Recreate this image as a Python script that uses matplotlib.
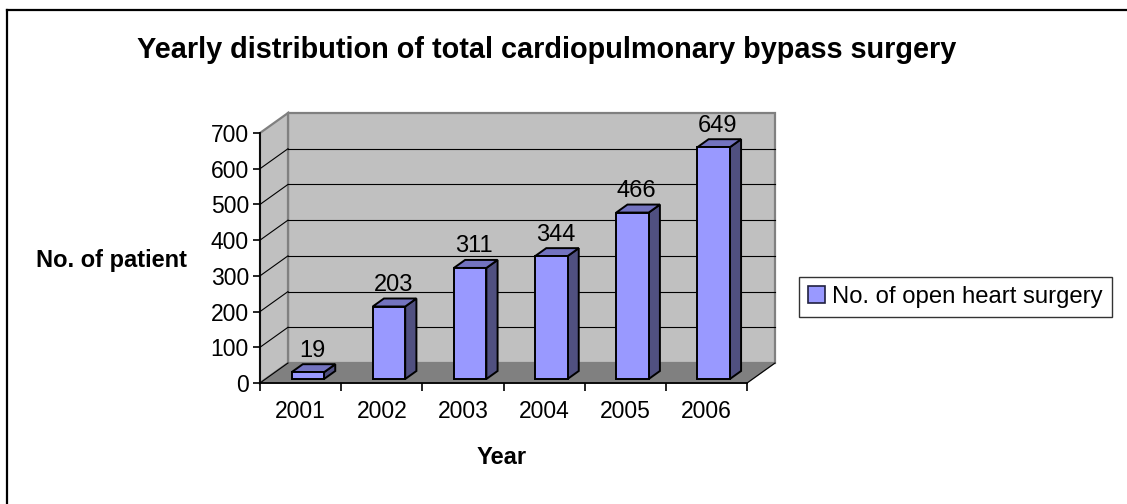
import matplotlib
matplotlib.use("Agg")
from matplotlib import pyplot as plt
from matplotlib.patches import Polygon, Patch
from matplotlib.lines import Line2D

years = ["2001", "2002", "2003", "2004", "2005", "2006"]
patients = [19, 203, 311, 344, 466, 649]
y_ticks = [0, 100, 200, 300, 400, 500, 600, 700]
series_name = "No. of open heart surgery"

plt.rcParams["font.family"] = ["Liberation Sans", "DejaVu Sans"]

W, H = 1127, 504
fig = plt.figure(figsize=(W / 100, H / 100), dpi=100)
# front plane of the 3d box, in pixels
left, right, bottom, top = 260, 747, 383, 133
ax = fig.add_axes([left / W, 1 - bottom / H, (right - left) / W, (bottom - top) / H])
n = len(years)
ymax = y_ticks[-1]
ax.set_xlim(0, n)
ax.set_ylim(0, ymax)

# depth vector in data units (28 px right, 20 px up)
DX = 28 / ((right - left) / n)
DY = 20 / ((bottom - top) / ymax)


def at(x, y, d):
    return (x + DX * d, y + DY * d)


wall_kw = dict(facecolor="#C0C0C0", edgecolor="#808080", lw=1.6, clip_on=False, zorder=1)
ax.add_patch(Polygon([at(0, 0, 1), at(n, 0, 1), at(n, ymax, 1), at(0, ymax, 1)], **wall_kw))
ax.add_patch(Polygon([at(0, 0, 0), at(0, ymax, 0), at(0, ymax, 1), at(0, 0, 1)], **wall_kw))
ax.add_patch(Polygon([at(0, 0, 0), at(n, 0, 0), at(n, 0, 1), at(0, 0, 1)],
                     facecolor="#808080", edgecolor="#808080", lw=1, clip_on=False, zorder=1))

for v in y_ticks[1:-1]:
    xs, ys = zip(at(0, v, 1), at(n, v, 1))
    ax.plot(xs, ys, color="black", lw=0.8, clip_on=False, zorder=2)
    xs, ys = zip(at(0, v, 0), at(0, v, 1))
    ax.plot(xs, ys, color="black", lw=0.8, clip_on=False, zorder=2)
xs, ys = zip(at(0, 0, 0), at(0, 0, 1))
ax.plot(xs, ys, color="black", lw=0.8, clip_on=False, zorder=2)
xs, ys = zip(at(n, 0, 0), at(n, 0, 1))
ax.plot(xs, ys, color="black", lw=0.8, clip_on=False, zorder=2)

# 3d bars
bw = 0.4
d0, d1 = 0.2, 0.6
for i, v in enumerate(patients):
    x0 = i + 0.52 - bw / 2
    x1 = x0 + bw
    kw = dict(edgecolor="black", lw=1.4, clip_on=False, zorder=5, joinstyle="miter")
    ax.add_patch(Polygon([at(x1, 0, d0), at(x1, v, d0), at(x1, v, d1), at(x1, 0, d1)],
                         facecolor="#505080", **kw))
    ax.add_patch(Polygon([at(x0, v, d0), at(x1, v, d0), at(x1, v, d1), at(x0, v, d1)],
                         facecolor="#7373BF", **kw))
    ax.add_patch(Polygon([at(x0, 0, d0), at(x1, 0, d0), at(x1, v, d0), at(x0, v, d0)],
                         facecolor="#9999FF", **kw))
    lx, ly = at(i + 0.52, v, 0.35)
    ax.annotate(str(v), (lx, ly), xytext=(0, 5.5), textcoords="offset points",
                ha="center", va="bottom", fontsize=17, zorder=6, annotation_clip=False)

# axes
for s in ("top", "right"):
    ax.spines[s].set_visible(False)
ax.spines["left"].set_linewidth(1.3)
ax.spines["bottom"].set_linewidth(1.3)
ax.spines["left"].set_zorder(3)
ax.spines["bottom"].set_zorder(3)
ax.set_yticks(y_ticks)
ax.tick_params(axis="y", direction="out", length=5, width=1.2, labelsize=16.5, pad=3)
ax.set_xticks(range(n + 1))
ax.set_xticklabels([])
ax.set_xticks([i + 0.5 for i in range(n)], minor=True)
ax.set_xticklabels(years, minor=True)
ax.tick_params(axis="x", which="major", direction="out", length=6, width=1.2)
ax.tick_params(axis="x", which="minor", length=0, labelsize=16.5, pad=12)
ax.set_facecolor("none")

fig.text(547 / W, 1 - 58 / H, "Yearly distribution of total cardiopulmonary bypass surgery",
         fontsize=20.8, fontweight="bold", ha="center", va="baseline")
fig.text(112 / W, 1 - 267 / H, "No. of patient", fontsize=17, fontweight="bold",
         ha="center", va="baseline")
fig.text(502 / W, 1 - 464 / H, "Year", fontsize=17, fontweight="bold",
         ha="center", va="baseline")

handle = Patch(facecolor="#9999FF", edgecolor="#202040", lw=1.2)
leg = fig.legend([handle], [series_name], loc="center left",
                 bbox_to_anchor=(799 / W, 1 - 297 / H), fontsize=17.2,
                 frameon=True, fancybox=False, handlelength=0.7, handleheight=0.7,
                 handletextpad=0.3, borderpad=0.38, borderaxespad=0)
leg.get_frame().set_edgecolor("black")
leg.get_frame().set_linewidth(1.0)

# outer chart border
fig.add_artist(Line2D([7 / W, 7 / W], [0, 1 - 10 / H], transform=fig.transFigure,
                      color="black", lw=1.6))
fig.add_artist(Line2D([7 / W, 1], [1 - 10 / H, 1 - 10 / H], transform=fig.transFigure,
                      color="black", lw=1.6))

fig.savefig("out.png", dpi=100)
